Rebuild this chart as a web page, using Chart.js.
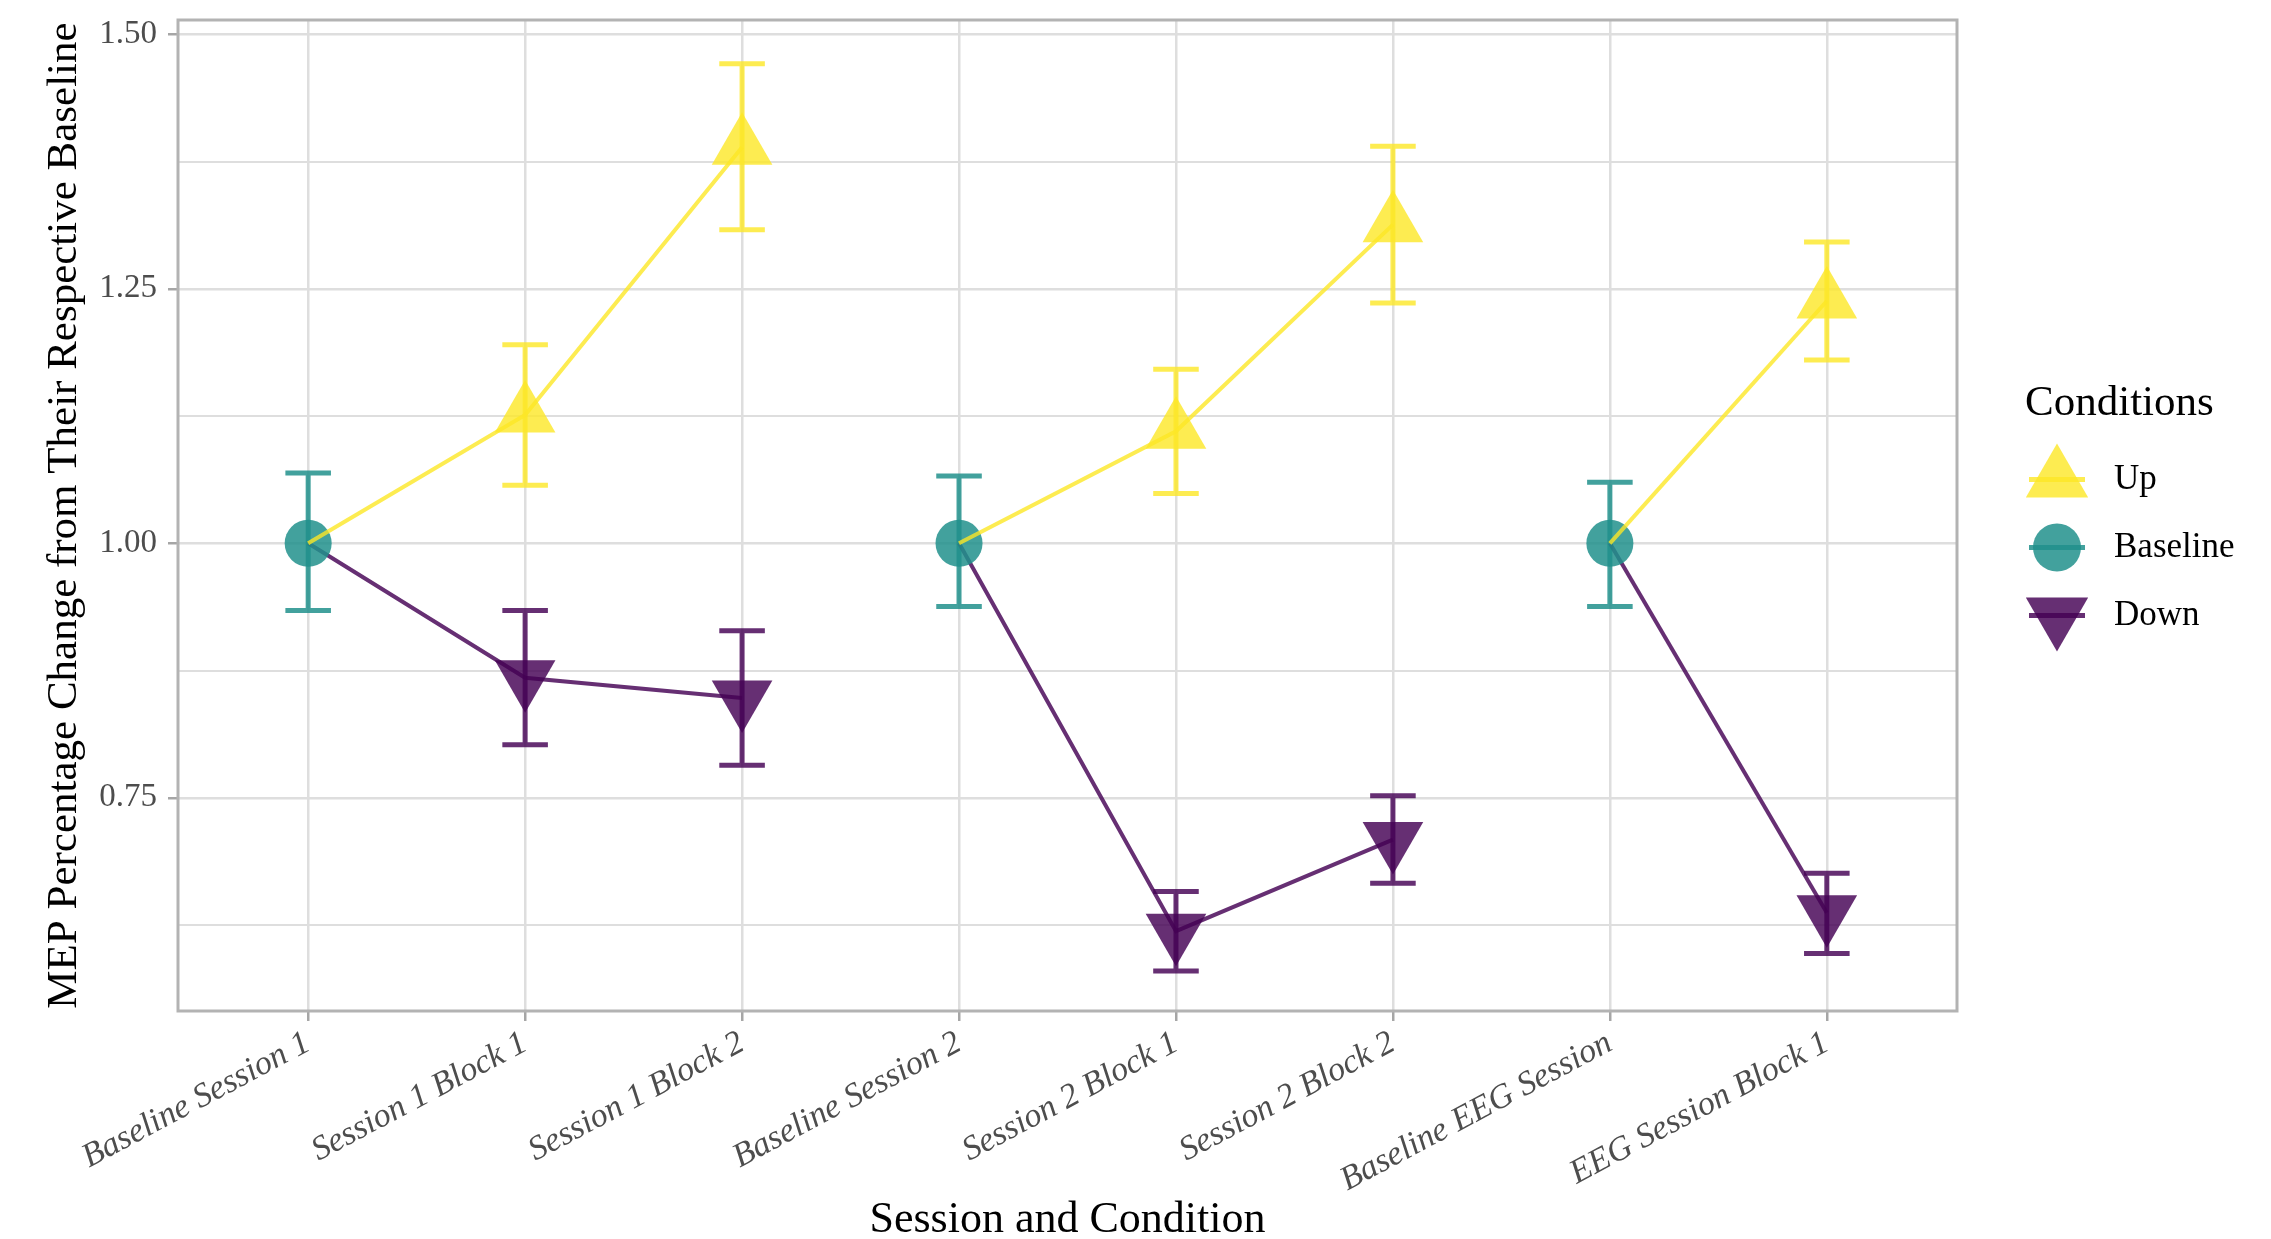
<!DOCTYPE html>
<html>
<head>
<meta charset="utf-8">
<script src="https://cdn.jsdelivr.net/npm/chart.js@4.4.1/dist/chart.umd.min.js"></script>
<style>
  html, body { margin: 0; padding: 0; background: #fff; }
</style>
</head>
<body>
<canvas id="chart" width="2271" height="1239"></canvas>
<script>
// values (mean, lower and upper end of the error bar)
const categories = ['Baseline Session 1', 'Session 1 Block 1', 'Session 1 Block 2', 'Baseline Session 2',
  'Session 2 Block 1', 'Session 2 Block 2', 'Baseline EEG Session', 'EEG Session Block 1'];
const sessions = [1, 1, 1, 2, 2, 2, 3, 3];

const baselineMean = [1.00, null, null, 1.00, null, null, 1.00, null];
const baselineLow = [0.934, null, null, 0.938, null, null, 0.938, null];
const baselineHigh = [1.069, null, null, 1.066, null, null, 1.060, null];

const upMean = [1.00, 1.126, 1.389, 1.00, 1.110, 1.313, 1.00, 1.238];
const upLow = [null, 1.057, 1.308, null, 1.049, 1.236, null, 1.180];
const upHigh = [null, 1.195, 1.471, null, 1.171, 1.390, null, 1.296];

const downMean = [1.00, 0.868, 0.848, 1.00, 0.619, 0.709, 1.00, 0.637];
const downLow = [null, 0.802, 0.782, null, 0.580, 0.666, null, 0.597];
const downHigh = [null, 0.934, 0.914, null, 0.658, 0.752, null, 0.676];

const yTickValues = [0.75, 1.00, 1.25, 1.50];
const yTickLabels = ['0.75', '1.00', '1.25', '1.50'];
const yMinorValues = [0.625, 0.875, 1.125, 1.375];

const legendTitle = 'Conditions';

const serif = "'Liberation Serif', 'Times New Roman', serif";
const upColor = 'rgba(253, 231, 37, 0.8)';
const baseColor = 'rgba(33, 144, 140, 0.85)';
const downColor = 'rgba(68, 1, 84, 0.82)';

const toPoints = arr => arr.map((v, i) => ({ x: i, y: v }));
const isBaseline = i => baselineMean[i] !== null;

// hide the joining segment between two sessions
const sessionSegment = {
  borderColor: ctx => sessions[ctx.p0DataIndex] !== sessions[ctx.p1DataIndex] ? 'rgba(0,0,0,0)' : undefined
};

const errorSeries = [
  { low: upLow, high: upHigh, color: upColor },
  { low: baselineLow, high: baselineHigh, color: baseColor },
  { low: downLow, high: downHigh, color: downColor }
];

function drawShape(ctx, style, x, y, r, color) {
  ctx.save();
  ctx.fillStyle = color;
  ctx.beginPath();
  if (style === 'circle') {
    ctx.arc(x, y, r, 0, Math.PI * 2);
  } else {
    const s = style === 'down' ? -1 : 1;
    ctx.moveTo(x, y - s * r);
    ctx.lineTo(x + r * Math.sin(Math.PI / 3), y + s * r / 2);
    ctx.lineTo(x - r * Math.sin(Math.PI / 3), y + s * r / 2);
    ctx.closePath();
  }
  ctx.fill();
  ctx.restore();
}

const errorBars = {
  id: 'errorBars',
  beforeDatasetsDraw(chart) {
    const { ctx, chartArea } = chart;
    const xs = chart.scales.x, ys = chart.scales.y;

    // panel border
    ctx.save();
    ctx.strokeStyle = '#B3B3B3';
    ctx.lineWidth = 3;
    ctx.strokeRect(chartArea.left, chartArea.top, chartArea.right - chartArea.left, chartArea.bottom - chartArea.top);
    ctx.restore();

    errorSeries.forEach(s => {
      ctx.save();
      ctx.strokeStyle = s.color;
      ctx.lineWidth = 5;
      ctx.beginPath();
      s.low.forEach((lo, i) => {
        if (lo === null) return;
        const x = xs.getPixelForValue(i);
        const x0 = xs.getPixelForValue(i - 0.105);
        const x1 = xs.getPixelForValue(i + 0.105);
        const yl = ys.getPixelForValue(lo);
        const yh = ys.getPixelForValue(s.high[i]);
        ctx.moveTo(x0, yh); ctx.lineTo(x1, yh);
        ctx.moveTo(x, yh); ctx.lineTo(x, yl);
        ctx.moveTo(x0, yl); ctx.lineTo(x1, yl);
      });
      ctx.stroke();
      ctx.restore();
    });
  }
};

const conditionLegend = {
  id: 'conditionLegend',
  afterDraw(chart) {
    const { ctx, chartArea } = chart;
    const mid = (chartArea.top + chartArea.bottom) / 2;
    const left = chartArea.right + 68;
    const keyX = chartArea.right + 100;
    ctx.save();
    ctx.fillStyle = '#000';
    ctx.textBaseline = 'middle';
    ctx.font = '43px ' + serif;
    ctx.fillText(legendTitle, left, mid - 112);

    const items = [
      { label: chart.data.datasets[0].label, style: 'up', r: 36, color: upColor, dy: -36 },
      { label: chart.data.datasets[1].label, style: 'circle', r: 24, color: baseColor, dy: 32 },
      { label: chart.data.datasets[2].label, style: 'down', r: 36, color: downColor, dy: 100 }
    ];
    ctx.font = '35px ' + serif;
    items.forEach(it => {
      const y = mid + it.dy;
      drawShape(ctx, it.style, keyX, y, it.r, it.color);
      ctx.strokeStyle = it.color;
      ctx.lineWidth = 5;
      ctx.beginPath();
      ctx.moveTo(keyX - 28, y);
      ctx.lineTo(keyX + 28, y);
      ctx.stroke();
      ctx.fillStyle = '#000';
      ctx.fillText(it.label, keyX + 57, y);
    });
    ctx.restore();
  }
};

new Chart(document.getElementById('chart').getContext('2d'), {
  type: 'line',
  data: {
    datasets: [
      {
        label: 'Up',
        data: toPoints(upMean),
        borderColor: upColor,
        borderWidth: 4,
        backgroundColor: upColor,
        pointStyle: 'triangle',
        pointRadius: ctx => isBaseline(ctx.dataIndex) ? 0 : 35,
        pointBorderWidth: 0,
        segment: sessionSegment
      },
      {
        label: 'Baseline',
        data: toPoints(baselineMean),
        showLine: false,
        backgroundColor: baseColor,
        borderColor: baseColor,
        pointStyle: 'circle',
        pointRadius: 23.5,
        pointBorderWidth: 0
      },
      {
        label: 'Down',
        data: toPoints(downMean),
        borderColor: downColor,
        borderWidth: 4,
        backgroundColor: downColor,
        pointStyle: 'triangle',
        pointRotation: 180,
        pointRadius: ctx => isBaseline(ctx.dataIndex) ? 0 : 35,
        pointBorderWidth: 0,
        segment: sessionSegment
      }
    ]
  },
  options: {
    responsive: false,
    animation: false,
    devicePixelRatio: 1,
    events: [],
    layout: { autoPadding: false, padding: { left: 0, right: 314, top: 20, bottom: 0 } },
    plugins: {
      legend: { display: false },
      tooltip: { enabled: false }
    },
    scales: {
      x: {
        type: 'linear',
        min: -0.6,
        max: 7.6,
        afterBuildTicks: s => { s.ticks = categories.map((c, i) => ({ value: i })); },
        afterFit: s => { s.height = 228; s.paddingLeft = 0; s.paddingRight = 0; },
        border: { display: false },
        grid: { color: '#DEDEDE', lineWidth: 2.5, tickColor: '#A6A6A6', tickWidth: 2.5, tickLength: 10 },
        ticks: {
          autoSkip: false,
          minRotation: 28,
          maxRotation: 28,
          padding: 2,
          color: '#4D4D4D',
          font: { family: serif, size: 34, style: 'italic' },
          callback: v => categories[v]
        },
        title: {
          display: true,
          text: 'Session and Condition',
          color: '#000',
          font: { family: serif, size: 44, lineHeight: 0.85 },
          padding: { top: 0, bottom: 0 }
        }
      },
      y: {
        min: 0.5406,
        max: 1.514,
        afterBuildTicks: s => {
          s.ticks = yMinorValues.concat(yTickValues).sort((a, b) => a - b).map(v => ({ value: v }));
        },
        afterFit: s => { s.width = 178; s.paddingTop = 0; s.paddingBottom = 0; },
        border: { display: false },
        grid: {
          color: '#DEDEDE',
          lineWidth: ctx => yTickValues.includes(ctx.tick.value) ? 2.5 : 2,
          tickColor: ctx => yTickValues.includes(ctx.tick.value) ? '#A6A6A6' : 'rgba(0,0,0,0)',
          tickWidth: 2.5,
          tickLength: 10
        },
        ticks: {
          padding: 11,
          color: '#4D4D4D',
          font: { family: serif, size: 33 },
          callback: v => {
            const k = yTickValues.indexOf(v);
            return k >= 0 ? yTickLabels[k] : '';
          }
        },
        title: {
          display: true,
          text: 'MEP Percentage Change from Their Respective Baseline',
          color: '#000',
          font: { family: serif, size: 43, lineHeight: 1.2 },
          padding: { top: 39, bottom: 0 }
        }
      }
    }
  },
  plugins: [errorBars, conditionLegend]
});
</script>
</body>
</html>
